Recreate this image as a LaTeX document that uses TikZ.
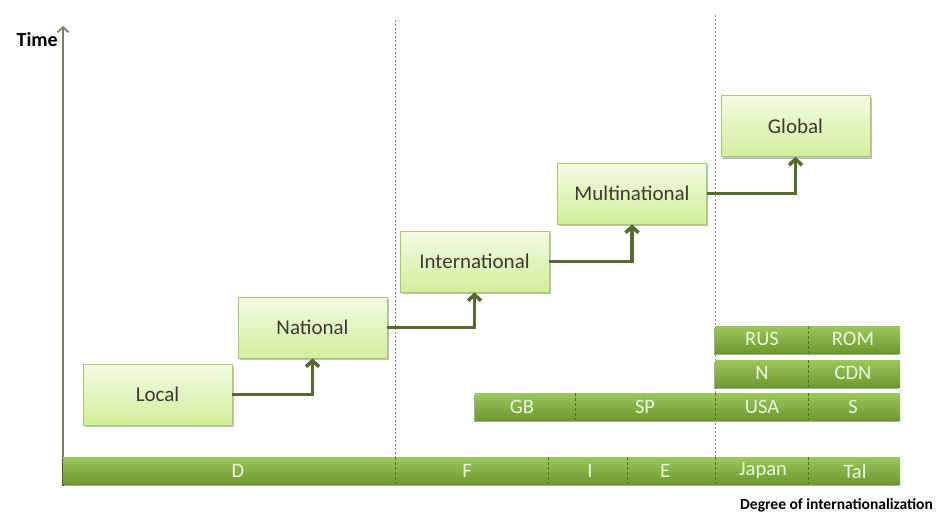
\documentclass[tikz,border=0pt]{standalone}
\usepackage{fontspec}
\setmainfont{Carlito}
\usetikzlibrary{arrows.meta,shadows}
\definecolor{boxtop}{HTML}{F3FBE4}
\definecolor{boxbot}{HTML}{D2EE9A}
\definecolor{boxline}{HTML}{A9C873}
\definecolor{bartop}{HTML}{9DC75B}
\definecolor{barbot}{HTML}{6C982E}
\definecolor{bartext}{HTML}{ECF6DC}
\definecolor{divc}{HTML}{4E6E22}
\definecolor{arrowc}{HTML}{56692F}
\definecolor{axisc}{HTML}{76855C}
\definecolor{textc}{HTML}{3B3B33}
\definecolor{guide}{HTML}{8C8C8C}
\begin{document}
\begin{tikzpicture}[x=1pt,y=-1pt,
  stage/.style={draw=boxline, line width=0.6pt, top color=boxtop, bottom color=boxbot,
    minimum width=149pt, minimum height=61pt, inner sep=0pt, text=textc,
    font=\fontsize{21}{22}\selectfont,
    drop shadow={shadow xshift=1.5pt, shadow yshift=-2pt, opacity=0.25, fill=black}},
  bar/.style={top color=bartop, bottom color=barbot, inner sep=0pt, anchor=north west,
    minimum height=27pt,
    drop shadow={shadow xshift=-1pt, shadow yshift=-2pt, opacity=0.35, fill=black}},
  seg/.style={text=bartext, font=\fontsize{20.5}{20.5}\selectfont, inner sep=0pt},
  conn/.style={draw=arrowc, line width=3.5pt, -{Straight Barb[length=6pt,width=13pt]}},
  divider/.style={draw=divc, dash pattern=on 3pt off 2pt, line width=0.8pt},
  guideline/.style={draw=guide, dash pattern=on 2pt off 2pt, line width=0.8pt},
  lbl/.style={font=\bfseries, text=black, inner sep=0pt}]
\useasboundingbox[fill=white] (0,0) rectangle (936,515);

% guide lines
\draw[guideline] (395,20) -- (395,485);
\draw[guideline] (715,15) -- (715,485);

% axis
\coordinate (origin) at (63,486);
\coordinate (ytop) at (63,26);
\draw[axisc, line width=1.8pt, -{Straight Barb[length=5pt,width=11pt]}] (origin) -- (ytop);
\node[lbl, font=\bfseries\fontsize{20}{20}\selectfont, anchor=east] (time) at (58,40) {Time};
\node[lbl, font=\bfseries\fontsize{15.5}{16}\selectfont, anchor=east] (deg) at (933,505) {Degree of internationalization};

% bars
\node[bar, minimum width=837pt] (barD) at (63,457) {};
\node[bar, minimum width=425pt] (barGB) at (475,393) {};
\node[bar, minimum width=185pt] (barN) at (715,360) {};
\node[bar, minimum width=185pt] (barR) at (715,326) {};

% dividers
\foreach \x in {395,548,627,715,808} \draw[divider] (\x,457) -- (\x,484);
\foreach \x in {575,715,808} \draw[divider] (\x,393) -- (\x,420);
\draw[divider] (808,360) -- (808,387);
\draw[divider] (808,326) -- (808,353);

% bar labels
\node[seg] (sD) at (238,471) {D};
\node[seg] (sF) at (467,471) {F};
\node[seg] (sI) at (590,471) {I};
\node[seg] (sE) at (665,471) {E};
\node[seg] (sJ) at (763,471) {Japan};
\node[seg] (sT) at (855,471) {Tal};
\node[seg] (sGB) at (522,407) {GB};
\node[seg] (sSP) at (645,407) {SP};
\node[seg] (sUSA) at (762,407) {USA};
\node[seg] (sS) at (853,407) {S};
\node[seg] (sN) at (762,373) {N};
\node[seg] (sCDN) at (853,373) {CDN};
\node[seg] (sRUS) at (762,339) {RUS};
\node[seg] (sROM) at (853,339) {ROM};

% stages
\node[stage] (local) at (157.5,394.5) {Local};
\node[stage] (national) at (312.5,327.5) {National};
\node[stage] (intl) at (474.5,261.5) {International};
\node[stage] (multi) at (632,193.5) {Multinational};
\node[stage] (global) at (795.5,126) {Global};

% connectors
\draw[conn] (local.east) -| (national.south);
\draw[conn] (national.east) -| (intl.south);
\draw[conn] (intl.east) -| (multi.south);
\draw[conn] (multi.east) -| (global.south);
\end{tikzpicture}
\end{document}
